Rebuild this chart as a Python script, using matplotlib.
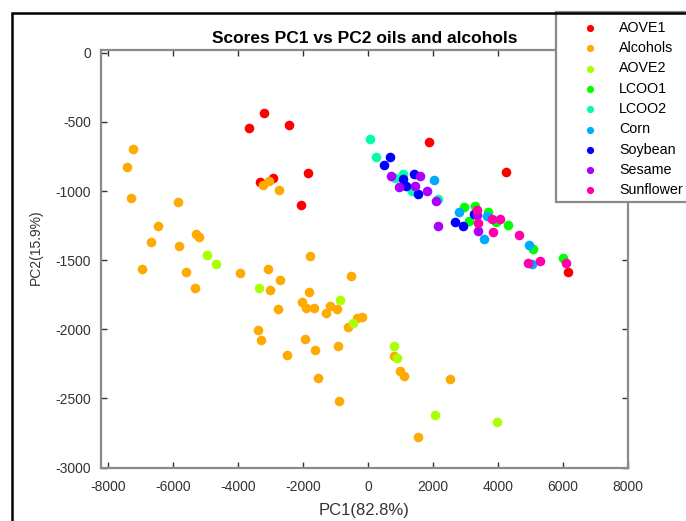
import matplotlib
matplotlib.use("Agg")
import matplotlib.pyplot as plt
from matplotlib.patches import Rectangle

plt.rcParams["font.family"] = ["Liberation Sans", "DejaVu Sans"]
plt.rcParams["axes.unicode_minus"] = False

# scores
groups = ["AOVE1", "Alcohols", "AOVE2", "LCOO1", "LCOO2",
          "Corn", "Soybean", "Sesame", "Sunflower"]
colors = ["#ff0000", "#ffaa00", "#aaff00", "#00ff00", "#00ffaa",
          "#00aaff", "#0000ff", "#aa00ff", "#ff00aa"]

aove1_x = [-3686, -3225, -2446, -3348, -2929, -1862, -2077, 1862, 4240, 6160]
aove1_y = [-547, -438, -523, -933, -904, -870, -1101, -643, -860, -1586]

alcohols_x = [-7237, -7431, -7308, -5871, -6477, -6683, -5822, -5317, -5206,
              -3255, -3062, -2754, -1791, -6979, -5625, -5339, -3963, -3083,
              -2702, -3022, -1822, -2025, -1902, -1677, -1163, -1298, -948,
              -538, -622, -354, -191, -3400, -3317, -2508, -1954, -1646,
              -938, -1532, -908, -2794, 806, 978, 1114, 2517, 1545]
alcohols_y = [-694, -829, -1048, -1082, -1253, -1369, -1395, -1309, -1335,
              -959, -925, -995, -1473, -1562, -1583, -1699, -1595, -1562,
              -1641, -1713, -1728, -1800, -1848, -1844, -1831, -1884, -1855,
              -1614, -1985, -1918, -1911, -2005, -2077, -2188, -2072, -2152,
              -2123, -2352, -2520, -1851, -2191, -2301, -2340, -2361, -2776]

aove2_x = [-4969, -4702, -3379, -868, -468, 806, 877, 2055, 3975]
aove2_y = [-1463, -1528, -1699, -1790, -1952, -2118, -2205, -2622, -2670]

lcoo1_x = [2939, 3277, 3677, 3092, 4314, 3923, 5083, 5985]
lcoo1_y = [-1118, -1108, -1154, -1217, -1244, -1225, -1417, -1482]

lcoo2_x = [68, 252, 1071, 825, 1338, 2139]
lcoo2_y = [-624, -754, -875, -904, -1000, -1058]

corn_x = [2037, 2794, 3646, 3575, 4939, 5052]
corn_y = [-920, -1150, -1181, -1349, -1388, -1526]

soybean_x = [683, 486, 1409, 1071, 1175, 1545, 3246, 2662, 2929]
soybean_y = [-754, -814, -877, -915, -964, -1022, -1168, -1226, -1253]

sesame_x = [714, 1594, 948, 1431, 1809, 2086, 2148, 3348, 3391]
sesame_y = [-894, -894, -973, -966, -1000, -1074, -1251, -1173, -1289]

sunflower_x = [3360, 3822, 4068, 3391, 3840, 4652, 4929, 5277, 6086]
sunflower_y = [-1137, -1205, -1200, -1229, -1294, -1316, -1523, -1506, -1518]

xs = [aove1_x, alcohols_x, aove2_x, lcoo1_x, lcoo2_x,
      corn_x, soybean_x, sesame_x, sunflower_x]
ys = [aove1_y, alcohols_y, aove2_y, lcoo1_y, lcoo2_y,
      corn_y, soybean_y, sesame_y, sunflower_y]

W, H = 686, 521
fig = plt.figure(figsize=(W / 100, H / 100), dpi=100)
ax = fig.add_axes([101 / W, 1 - 467.5 / H, 527 / W, 417.5 / H])

for name, c, x, y in zip(groups, colors, xs, ys):
    ax.scatter(x, y, s=48, color=c, linewidths=0, label=name)

ax.set_xlim(-8230, 8000)
ax.set_ylim(-3000, 20)
ax.set_xticks(range(-8000, 8001, 2000))
ax.set_yticks(range(-3000, 1, 500))
ax.tick_params(direction="in", length=4, width=1, colors="#333333",
               labelsize=10, top=True, right=True,
               labeltop=False, labelright=False)
ax.tick_params(axis="x", pad=9)
ax.tick_params(axis="y", pad=7)
for sp in ax.spines.values():
    sp.set_color("#8a8a8a")
    sp.set_linewidth(1.6)

ax.set_title("Scores PC1 vs PC2 oils and alcohols", fontsize=12.5,
             fontweight="bold", pad=5)
ax.set_xlabel("PC1(82.8%)", fontsize=12, color="#333333")
ax.set_ylabel("PC2(15.9%)", fontsize=10, color="#333333")
ax.xaxis.set_label_coords(0.5, -0.085)
ax.yaxis.set_label_coords(-0.11, 0.528)

# legend box sticks out of the right edge, as in the screenshot
fig.patches.append(Rectangle((556 / W, 1 - 202 / H), 150 / W, 190 / H,
                             transform=fig.transFigure, facecolor="white",
                             edgecolor="#8a8a8a", linewidth=1.6, zorder=4))
leg = fig.legend(loc="upper left", bbox_to_anchor=(553.5 / W, 1 - 14 / H),
                 frameon=False, fontsize=10.3, markerscale=0.75,
                 scatterpoints=1, borderaxespad=0, borderpad=0.48,
                 labelspacing=0.44, handlelength=4.1, handletextpad=0.0)
leg.set_zorder(5)

# black frame of the screenshot
fig.patches.append(Rectangle((12 / W, -0.1), 1.2, 1.1 - 13 / H,
                             transform=fig.transFigure, fill=False,
                             edgecolor="black", linewidth=1.8, zorder=6))

fig.savefig("out.png", dpi=100)
